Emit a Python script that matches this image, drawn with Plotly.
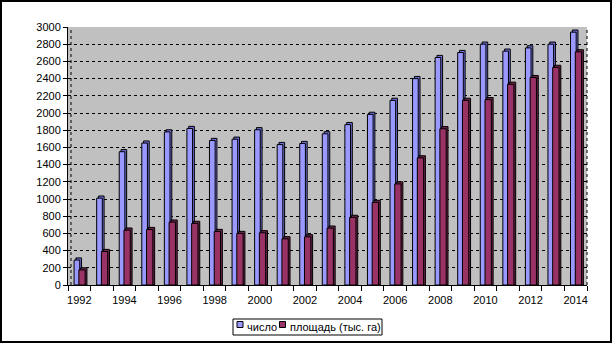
import plotly.graph_objects as go

years = list(range(1992, 2015))
chislo = [290, 1010, 1550, 1650, 1780, 1820, 1680, 1695, 1805, 1633, 1645, 1758, 1865,
          1984, 2147, 2400, 2645, 2703, 2800, 2719, 2757, 2800, 2940]
ploshad = [175, 389, 638, 645, 731, 716, 622, 599, 607, 537, 560, 661, 786,
           960, 1175, 1478, 1817, 2147, 2155, 2334, 2412, 2530, 2711]
series_names = ["число", "площадь (тыс. га)"]
ytick_vals = list(range(0, 3001, 200))
xtick_vals = list(range(1992, 2015, 2))

BLUE = "#9999FF"
BLUE_DARK = "#6E6ED8"
MAROON = "#993366"
MAROON_DARK = "#6B2348"
DEPTH = 25  # pseudo-3D depth in value units

L, R, T, B = 68, 27, 27, 60
W, H = 614, 345
PW, PH = W - L - R, H - T - B


def px(x):
    return (x - L) / PW


def py(y):
    return (H - B - y) / PH


fig = go.Figure()


def add_series(vals, name, front, dark, off_front, off_back, width):
    fig.add_trace(go.Bar(x=years, y=[v + DEPTH for v in vals], offset=off_back, width=width,
                         marker=dict(color=dark, line=dict(color="black", width=1)),
                         showlegend=False, hoverinfo="skip"))
    fig.add_trace(go.Bar(x=years, y=vals, offset=off_front, width=width, name=name,
                         showlegend=False,
                         marker=dict(color=front, line=dict(color="black", width=1))))


add_series(chislo, series_names[0], BLUE, BLUE_DARK, -0.23, -0.15, 0.25)
add_series(ploshad, series_names[1], MAROON, MAROON_DARK, -0.02, 0.06, 0.28)

shapes = [
    # right dotted wall edge
    dict(type="line", xref="paper", yref="paper", x0=1, x1=1, y0=0, y1=1,
         line=dict(color="black", width=1, dash="dot")),
    # left dotted wall edge
    dict(type="line", xref="paper", yref="paper", x0=px(71), x1=px(71), y0=0, y1=1,
         line=dict(color="black", width=1, dash="dot")),
    # outer chart border
    dict(type="rect", xref="paper", yref="paper",
         x0=px(1), x1=px(611), y0=py(342), y1=py(1),
         line=dict(color="black", width=2)),
    # legend box
    dict(type="rect", xref="paper", yref="paper",
         x0=px(233), x1=px(382), y0=py(335), y1=py(319),
         line=dict(color="black", width=1), fillcolor="white"),
    # legend swatches
    dict(type="rect", xref="paper", yref="paper",
         x0=px(237), x1=px(243), y0=py(327.5), y1=py(321.5),
         line=dict(color="black", width=1), fillcolor=BLUE),
    dict(type="rect", xref="paper", yref="paper",
         x0=px(279.5), x1=px(285.5), y0=py(327.5), y1=py(321.5),
         line=dict(color="black", width=1), fillcolor=MAROON),
]

annotations = [
    dict(xref="paper", yref="paper", x=px(245), y=py(327), text=series_names[0],
         showarrow=False, xanchor="left", yanchor="middle", font=dict(size=11)),
    dict(xref="paper", yref="paper", x=px(287.5), y=py(327), text=series_names[1],
         showarrow=False, xanchor="left", yanchor="middle", font=dict(size=11)),
]

fig.update_layout(
    width=W, height=H,
    margin=dict(l=L, r=R, t=T, b=B),
    paper_bgcolor="white",
    plot_bgcolor="#C0C0C0",
    barmode="overlay",
    font=dict(family="Liberation Sans, Arial, sans-serif", size=11, color="black"),
    showlegend=False,
    xaxis=dict(range=[1991.5, 2014.5], tickvals=xtick_vals, ticktext=[str(v) for v in xtick_vals],
               ticks="outside", ticklen=5, tickcolor="rgba(0,0,0,0)",
               minor=dict(tick0=1991.5, dtick=1, ticks="outside", ticklen=5, tickcolor="black",
                          showgrid=False),
               showgrid=False, showline=True, linecolor="black", linewidth=1, zeroline=False,
               automargin=False),
    yaxis=dict(range=[0, 3000], tickvals=ytick_vals, ticks="outside", ticklen=4, tickcolor="black",
               showgrid=True, gridcolor="black", griddash="dot", gridwidth=1,
               showline=True, linecolor="black", linewidth=1, zeroline=False,
               automargin=False),
    shapes=shapes,
    annotations=annotations,
)

fig.write_html("out.html")
